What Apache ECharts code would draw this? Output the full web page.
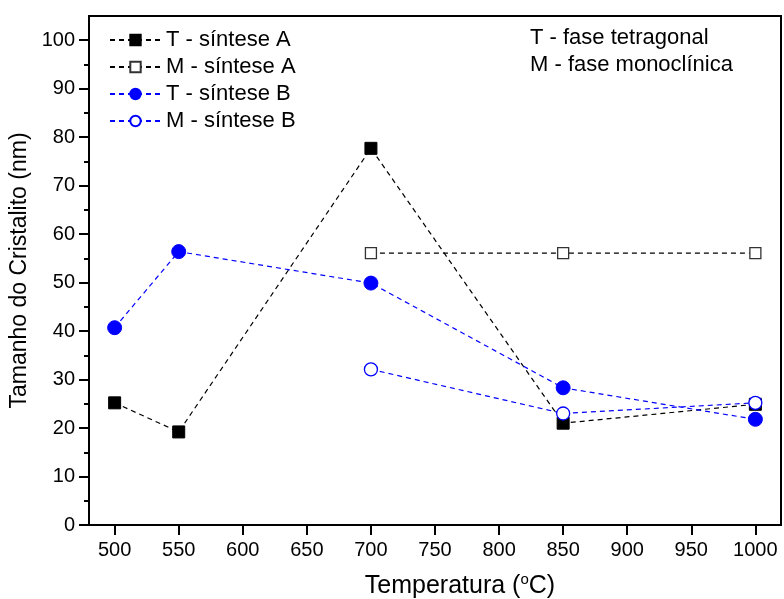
<!DOCTYPE html>
<html>
<head>
<meta charset="utf-8">
<script src="https://cdn.jsdelivr.net/npm/echarts@6/dist/echarts.min.js"></script>
<style>html,body{margin:0;padding:0;background:#fff}#c{width:784px;height:599px}</style>
</head>
<body>
<div id="c"></div>
<script>
const temps = [500, 550, 700, 850, 1000];
const tempsM = [700, 850, 1000];
const tSinteseA = [25.2, 19.2, 77.7, 21.0, 24.9];
const mSinteseA = [56.1, 56.1, 56.1];
const tSinteseB = [40.7, 56.4, 49.9, 28.3, 21.8];
const mSinteseB = [32.1, 23.0, 25.2];
const xTicks = [500, 550, 600, 650, 700, 750, 800, 850, 900, 950, 1000];
const yTicks = [0, 10, 20, 30, 40, 50, 60, 70, 80, 90, 100];
const yMinor = [5, 15, 25, 35, 45, 55, 65, 75, 85, 95];
const seriesNames = ['T - síntese A', 'M - síntese A', 'T - síntese B', 'M - síntese B'];
const notes = ['T - fase tetragonal', 'M - fase monoclínica'];

const pair = (xs, ys) => xs.map((x, i) => [x, ys[i]]);
const FONT = 'Liberation Sans, Arial, sans-serif';
const dash = [5, 4];

const chart = echarts.init(document.getElementById('c'));
chart.setOption({
  animation: false,
  textStyle: { fontFamily: FONT },
  grid: { left: 89, right: 3, top: 16, bottom: 74, outerBoundsMode: 'none', containLabel: false,
          show: true, borderColor: '#000', borderWidth: 2, backgroundColor: 'transparent' },
  xAxis: {
    type: 'value', min: 480, max: 1020,
    name: 'Temperatura ({s|o}C)', nameLocation: 'middle', nameGap: 47,
    nameTextStyle: { fontSize: 25, color: '#000', fontFamily: FONT, padding: [0, 0, 0, 50],
      rich: { s: { fontSize: 15, verticalAlign: 'top', padding: [0, 0, 14, 0], fontFamily: FONT, color: '#000' } } },
    axisLine: { lineStyle: { color: '#000', width: 2 } },
    axisTick: { inside: false, length: 10, lineStyle: { color: '#000', width: 2 }, customValues: xTicks },
    axisLabel: { customValues: xTicks, fontSize: 20, color: '#000', margin: 15, fontFamily: FONT, formatter: v => String(v) },
    splitLine: { show: false }
  },
  yAxis: [{
    type: 'value', min: 0, max: 105, position: 'left',
    name: 'Tamanho do Cristalito (nm)', nameLocation: 'middle', nameGap: 45, nameRotate: 90,
    nameTextStyle: { fontSize: 23, color: '#000', fontFamily: FONT },
    axisLine: { lineStyle: { color: '#000', width: 2 } },
    axisTick: { inside: false, length: 10, lineStyle: { color: '#000', width: 2 }, customValues: yTicks },
    axisLabel: { customValues: yTicks, fontSize: 20, color: '#000', margin: 14, fontFamily: FONT, formatter: v => String(v) },
    splitLine: { show: false }
  }, {
    type: 'value', min: 0, max: 105, position: 'left',
    axisLine: { show: false },
    axisTick: { inside: false, length: 5, lineStyle: { color: '#000', width: 2 }, customValues: yMinor },
    axisLabel: { show: false },
    splitLine: { show: false }
  }],
  legend: {
    orient: 'vertical', left: 109, top: 29, padding: 0, itemWidth: 51, itemHeight: 13, itemGap: 5,
    textStyle: { fontSize: 22, color: '#000', fontFamily: FONT },
    data: seriesNames
  },
  graphic: [
    { type: 'text', left: 530, top: 27, style: { text: notes[0], fontSize: 22, fill: '#000', fontFamily: FONT } },
    { type: 'text', left: 530, top: 54, style: { text: notes[1], fontSize: 22, fill: '#000', fontFamily: FONT } }
  ],
  series: [
    { name: seriesNames[0], type: 'line', data: pair(temps, tSinteseA), symbol: 'rect', symbolSize: 12,
      lineStyle: { color: '#000', width: 1.2, type: dash }, itemStyle: { color: '#000', borderColor: '#000', borderWidth: 1 } },
    { name: seriesNames[1], type: 'line', data: pair(tempsM, mSinteseA), symbol: 'rect', symbolSize: 11,
      lineStyle: { color: '#000', width: 1.2, type: dash }, itemStyle: { color: '#fff', borderColor: '#333', borderWidth: 1.3 } },
    { name: seriesNames[2], type: 'line', data: pair(temps, tSinteseB), symbol: 'circle', symbolSize: 14,
      lineStyle: { color: '#0000ff', width: 1.2, type: dash }, itemStyle: { color: '#0000ff', borderColor: '#0000ff', borderWidth: 1 } },
    { name: seriesNames[3], type: 'line', data: pair(tempsM, mSinteseB), symbol: 'circle', symbolSize: 13,
      lineStyle: { color: '#0000ff', width: 1.2, type: dash }, itemStyle: { color: '#fff', borderColor: '#0000ff', borderWidth: 1.3 } }
  ]
});
</script>
</body>
</html>
